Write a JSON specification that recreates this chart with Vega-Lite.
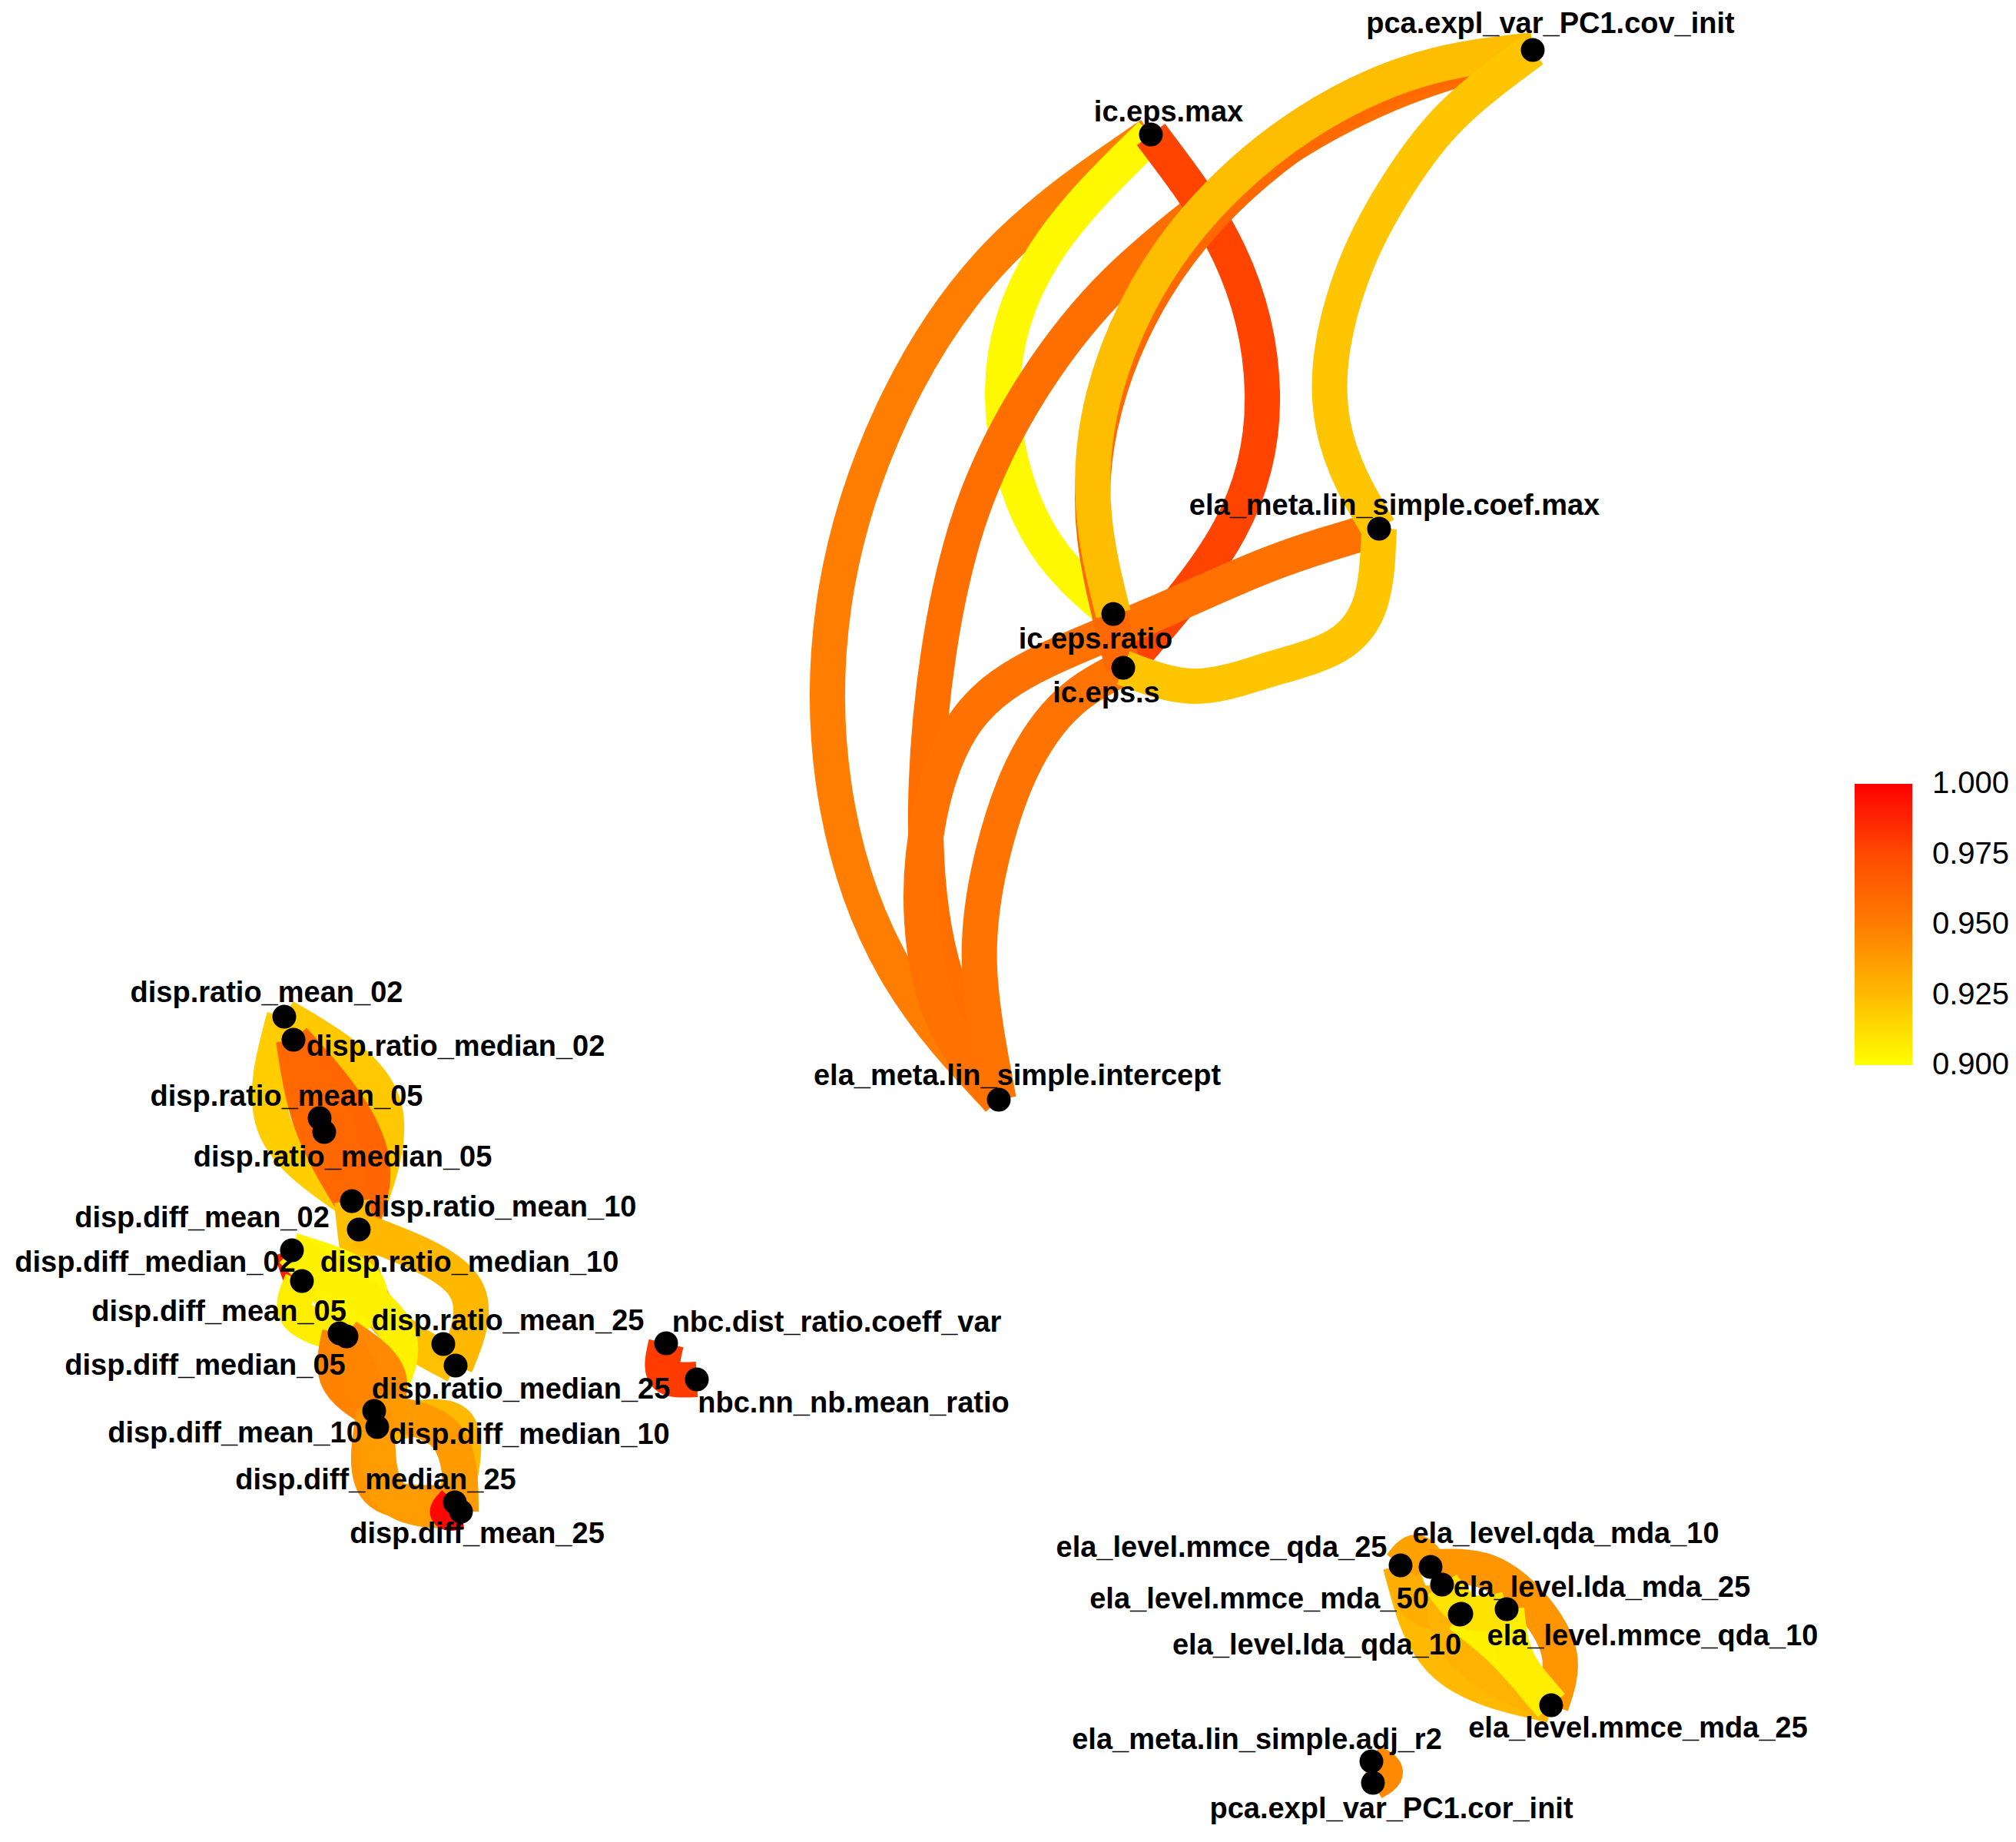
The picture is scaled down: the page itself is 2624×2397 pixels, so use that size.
{
  "$schema": "https://vega.github.io/schema/vega-lite/v6.json",
  "width": 2624,
  "height": 2397,
  "padding": 0,
  "autosize": {"type": "none"},
  "background": "white",
  "config": {"view": {"stroke": null}},
  "datasets": {
    "edges": [
      {"e": "e01", "i": 0, "x": 1498, "y": 175, "r": 0.95},
      {"e": "e01", "i": 1, "x": 1300, "y": 330, "r": 0.95},
      {"e": "e01", "i": 2, "x": 1160, "y": 540, "r": 0.95},
      {"e": "e01", "i": 3, "x": 1085, "y": 790, "r": 0.95},
      {"e": "e01", "i": 4, "x": 1090, "y": 1050, "r": 0.95},
      {"e": "e01", "i": 5, "x": 1170, "y": 1270, "r": 0.95},
      {"e": "e01", "i": 6, "x": 1300, "y": 1431, "r": 0.95},
      {"e": "e02", "i": 0, "x": 1498, "y": 175, "r": 0.902},
      {"e": "e02", "i": 1, "x": 1360, "y": 330, "r": 0.902},
      {"e": "e02", "i": 2, "x": 1305, "y": 510, "r": 0.902},
      {"e": "e02", "i": 3, "x": 1350, "y": 690, "r": 0.902},
      {"e": "e02", "i": 4, "x": 1449, "y": 799, "r": 0.902},
      {"e": "e03", "i": 0, "x": 1995, "y": 65, "r": 0.957},
      {"e": "e03", "i": 1, "x": 1845, "y": 108, "r": 0.957},
      {"e": "e03", "i": 2, "x": 1695, "y": 180, "r": 0.957},
      {"e": "e03", "i": 3, "x": 1560, "y": 275, "r": 0.957},
      {"e": "e03", "i": 4, "x": 1440, "y": 380, "r": 0.957},
      {"e": "e03", "i": 5, "x": 1340, "y": 510, "r": 0.957},
      {"e": "e03", "i": 6, "x": 1265, "y": 665, "r": 0.957},
      {"e": "e03", "i": 7, "x": 1222, "y": 848, "r": 0.957},
      {"e": "e03", "i": 8, "x": 1205, "y": 1050, "r": 0.957},
      {"e": "e03", "i": 9, "x": 1225, "y": 1250, "r": 0.957},
      {"e": "e03", "i": 10, "x": 1300, "y": 1431, "r": 0.957},
      {"e": "e04", "i": 0, "x": 1498, "y": 175, "r": 0.977},
      {"e": "e04", "i": 1, "x": 1600, "y": 330, "r": 0.977},
      {"e": "e04", "i": 2, "x": 1643, "y": 510, "r": 0.977},
      {"e": "e04", "i": 3, "x": 1600, "y": 690, "r": 0.977},
      {"e": "e04", "i": 4, "x": 1462, "y": 869, "r": 0.977},
      {"e": "e05", "i": 0, "x": 1795, "y": 688, "r": 0.956},
      {"e": "e05", "i": 1, "x": 1650, "y": 735, "r": 0.956},
      {"e": "e05", "i": 2, "x": 1500, "y": 800, "r": 0.956},
      {"e": "e05", "i": 3, "x": 1360, "y": 860, "r": 0.956},
      {"e": "e05", "i": 4, "x": 1260, "y": 935, "r": 0.956},
      {"e": "e05", "i": 5, "x": 1210, "y": 1060, "r": 0.956},
      {"e": "e05", "i": 6, "x": 1200, "y": 1200, "r": 0.956},
      {"e": "e05", "i": 7, "x": 1230, "y": 1330, "r": 0.956},
      {"e": "e05", "i": 8, "x": 1300, "y": 1431, "r": 0.956},
      {"e": "e06", "i": 0, "x": 1462, "y": 869, "r": 0.955},
      {"e": "e06", "i": 1, "x": 1390, "y": 915, "r": 0.955},
      {"e": "e06", "i": 2, "x": 1330, "y": 1000, "r": 0.955},
      {"e": "e06", "i": 3, "x": 1290, "y": 1120, "r": 0.955},
      {"e": "e06", "i": 4, "x": 1275, "y": 1260, "r": 0.955},
      {"e": "e06", "i": 5, "x": 1300, "y": 1431, "r": 0.955},
      {"e": "e07", "i": 0, "x": 1995, "y": 65, "r": 0.96},
      {"e": "e07", "i": 1, "x": 1845, "y": 100, "r": 0.96},
      {"e": "e07", "i": 2, "x": 1700, "y": 175, "r": 0.96},
      {"e": "e07", "i": 3, "x": 1572, "y": 285, "r": 0.96},
      {"e": "e07", "i": 4, "x": 1482, "y": 415, "r": 0.96},
      {"e": "e07", "i": 5, "x": 1432, "y": 555, "r": 0.96},
      {"e": "e07", "i": 6, "x": 1425, "y": 700, "r": 0.96},
      {"e": "e07", "i": 7, "x": 1462, "y": 869, "r": 0.96},
      {"e": "e08", "i": 0, "x": 1995, "y": 65, "r": 0.924},
      {"e": "e08", "i": 1, "x": 1850, "y": 90, "r": 0.924},
      {"e": "e08", "i": 2, "x": 1700, "y": 160, "r": 0.924},
      {"e": "e08", "i": 3, "x": 1570, "y": 270, "r": 0.924},
      {"e": "e08", "i": 4, "x": 1480, "y": 400, "r": 0.924},
      {"e": "e08", "i": 5, "x": 1430, "y": 545, "r": 0.924},
      {"e": "e08", "i": 6, "x": 1425, "y": 680, "r": 0.924},
      {"e": "e08", "i": 7, "x": 1449, "y": 799, "r": 0.924},
      {"e": "e09", "i": 0, "x": 1995, "y": 65, "r": 0.921},
      {"e": "e09", "i": 1, "x": 1890, "y": 150, "r": 0.921},
      {"e": "e09", "i": 2, "x": 1820, "y": 240, "r": 0.921},
      {"e": "e09", "i": 3, "x": 1769, "y": 335, "r": 0.921},
      {"e": "e09", "i": 4, "x": 1735, "y": 450, "r": 0.921},
      {"e": "e09", "i": 5, "x": 1735, "y": 552, "r": 0.921},
      {"e": "e09", "i": 6, "x": 1762, "y": 630, "r": 0.921},
      {"e": "e09", "i": 7, "x": 1795, "y": 688, "r": 0.921},
      {"e": "e10", "i": 0, "x": 1795, "y": 688, "r": 0.921},
      {"e": "e10", "i": 1, "x": 1785, "y": 780, "r": 0.921},
      {"e": "e10", "i": 2, "x": 1740, "y": 840, "r": 0.921},
      {"e": "e10", "i": 3, "x": 1650, "y": 872, "r": 0.921},
      {"e": "e10", "i": 4, "x": 1555, "y": 893, "r": 0.921},
      {"e": "e10", "i": 5, "x": 1462, "y": 869, "r": 0.921},
      {"e": "e11", "i": 0, "x": 370, "y": 1323, "r": 0.985},
      {"e": "e11", "i": 1, "x": 376, "y": 1338, "r": 0.985},
      {"e": "e11", "i": 2, "x": 382, "y": 1353, "r": 0.985},
      {"e": "e12", "i": 0, "x": 416, "y": 1455, "r": 0.985},
      {"e": "e12", "i": 1, "x": 419, "y": 1464, "r": 0.985},
      {"e": "e12", "i": 2, "x": 422, "y": 1473, "r": 0.985},
      {"e": "e13", "i": 0, "x": 458, "y": 1563, "r": 0.98},
      {"e": "e13", "i": 1, "x": 462, "y": 1581, "r": 0.98},
      {"e": "e13", "i": 2, "x": 467, "y": 1600, "r": 0.98},
      {"e": "e14", "i": 0, "x": 577, "y": 1749, "r": 0.99},
      {"e": "e14", "i": 1, "x": 590, "y": 1761, "r": 0.99},
      {"e": "e14", "i": 2, "x": 593, "y": 1777, "r": 0.99},
      {"e": "e15", "i": 0, "x": 380, "y": 1627, "r": 0.99},
      {"e": "e15", "i": 1, "x": 386, "y": 1647, "r": 0.99},
      {"e": "e15", "i": 2, "x": 393, "y": 1667, "r": 0.99},
      {"e": "e16", "i": 0, "x": 442, "y": 1735, "r": 0.99},
      {"e": "e16", "i": 1, "x": 446, "y": 1737, "r": 0.99},
      {"e": "e16", "i": 2, "x": 451, "y": 1739, "r": 0.99},
      {"e": "e17", "i": 0, "x": 487, "y": 1836, "r": 0.99},
      {"e": "e17", "i": 1, "x": 489, "y": 1846, "r": 0.99},
      {"e": "e17", "i": 2, "x": 491, "y": 1857, "r": 0.99},
      {"e": "e18", "i": 0, "x": 370, "y": 1323, "r": 0.918},
      {"e": "e18", "i": 1, "x": 357, "y": 1464, "r": 0.918},
      {"e": "e18", "i": 2, "x": 458, "y": 1563, "r": 0.918},
      {"e": "e19", "i": 0, "x": 370, "y": 1323, "r": 0.92},
      {"e": "e19", "i": 1, "x": 498, "y": 1434, "r": 0.92},
      {"e": "e19", "i": 2, "x": 467, "y": 1600, "r": 0.92},
      {"e": "e19b", "i": 0, "x": 370, "y": 1323, "r": 0.919},
      {"e": "e19b", "i": 1, "x": 425, "y": 1395, "r": 0.919},
      {"e": "e19b", "i": 2, "x": 422, "y": 1473, "r": 0.919},
      {"e": "e20", "i": 0, "x": 382, "y": 1353, "r": 0.96},
      {"e": "e20", "i": 1, "x": 406, "y": 1463, "r": 0.96},
      {"e": "e20", "i": 2, "x": 458, "y": 1563, "r": 0.96},
      {"e": "e21", "i": 0, "x": 382, "y": 1353, "r": 0.962},
      {"e": "e21", "i": 1, "x": 450, "y": 1435, "r": 0.962},
      {"e": "e21", "i": 2, "x": 485, "y": 1520, "r": 0.962},
      {"e": "e21", "i": 3, "x": 467, "y": 1600, "r": 0.962},
      {"e": "e21b", "i": 0, "x": 382, "y": 1353, "r": 0.961},
      {"e": "e21b", "i": 1, "x": 440, "y": 1465, "r": 0.961},
      {"e": "e21b", "i": 2, "x": 458, "y": 1563, "r": 0.961},
      {"e": "e22", "i": 0, "x": 458, "y": 1563, "r": 0.923},
      {"e": "e22", "i": 1, "x": 490, "y": 1700, "r": 0.923},
      {"e": "e22", "i": 2, "x": 593, "y": 1777, "r": 0.923},
      {"e": "e23", "i": 0, "x": 467, "y": 1600, "r": 0.926},
      {"e": "e23", "i": 1, "x": 603, "y": 1672, "r": 0.926},
      {"e": "e23", "i": 2, "x": 593, "y": 1777, "r": 0.926},
      {"e": "e24", "i": 0, "x": 380, "y": 1627, "r": 0.903},
      {"e": "e24", "i": 1, "x": 478, "y": 1672, "r": 0.903},
      {"e": "e24", "i": 2, "x": 442, "y": 1735, "r": 0.903},
      {"e": "e24b", "i": 0, "x": 380, "y": 1627, "r": 0.904},
      {"e": "e24b", "i": 1, "x": 430, "y": 1685, "r": 0.904},
      {"e": "e24b", "i": 2, "x": 451, "y": 1739, "r": 0.904},
      {"e": "e25", "i": 0, "x": 393, "y": 1667, "r": 0.906},
      {"e": "e25", "i": 1, "x": 388, "y": 1712, "r": 0.906},
      {"e": "e25", "i": 2, "x": 451, "y": 1739, "r": 0.906},
      {"e": "e26", "i": 0, "x": 380, "y": 1627, "r": 0.905},
      {"e": "e26", "i": 1, "x": 515, "y": 1730, "r": 0.905},
      {"e": "e26", "i": 2, "x": 487, "y": 1836, "r": 0.905},
      {"e": "e27", "i": 0, "x": 442, "y": 1735, "r": 0.948},
      {"e": "e27", "i": 1, "x": 440, "y": 1795, "r": 0.948},
      {"e": "e27", "i": 2, "x": 487, "y": 1836, "r": 0.948},
      {"e": "e28", "i": 0, "x": 451, "y": 1739, "r": 0.945},
      {"e": "e28", "i": 1, "x": 505, "y": 1790, "r": 0.945},
      {"e": "e28", "i": 2, "x": 491, "y": 1857, "r": 0.945},
      {"e": "e28b", "i": 0, "x": 442, "y": 1735, "r": 0.947},
      {"e": "e28b", "i": 1, "x": 472, "y": 1795, "r": 0.947},
      {"e": "e28b", "i": 2, "x": 491, "y": 1857, "r": 0.947},
      {"e": "e29", "i": 0, "x": 491, "y": 1857, "r": 0.925},
      {"e": "e29", "i": 1, "x": 594, "y": 1852, "r": 0.925},
      {"e": "e29", "i": 2, "x": 592, "y": 1955, "r": 0.925},
      {"e": "e30", "i": 0, "x": 487, "y": 1836, "r": 0.938},
      {"e": "e30", "i": 1, "x": 581, "y": 1869, "r": 0.938},
      {"e": "e30", "i": 2, "x": 600, "y": 1967, "r": 0.938},
      {"e": "e31", "i": 0, "x": 487, "y": 1836, "r": 0.94},
      {"e": "e31", "i": 1, "x": 491, "y": 1938, "r": 0.94},
      {"e": "e31", "i": 2, "x": 592, "y": 1955, "r": 0.94},
      {"e": "e32", "i": 0, "x": 491, "y": 1857, "r": 0.937},
      {"e": "e32", "i": 1, "x": 510, "y": 1947, "r": 0.937},
      {"e": "e32", "i": 2, "x": 600, "y": 1967, "r": 0.937},
      {"e": "e33", "i": 0, "x": 592, "y": 1955, "r": 0.998},
      {"e": "e33", "i": 1, "x": 583, "y": 1968, "r": 0.998},
      {"e": "e33", "i": 2, "x": 600, "y": 1967, "r": 0.998},
      {"e": "e34", "i": 0, "x": 867, "y": 1748, "r": 0.98},
      {"e": "e34", "i": 1, "x": 866, "y": 1789, "r": 0.98},
      {"e": "e34", "i": 2, "x": 907, "y": 1795, "r": 0.98},
      {"e": "e35", "i": 0, "x": 1823, "y": 2037, "r": 0.925},
      {"e": "e35", "i": 1, "x": 1880, "y": 2165, "r": 0.925},
      {"e": "e35", "i": 2, "x": 2019, "y": 2219, "r": 0.925},
      {"e": "e36", "i": 0, "x": 1823, "y": 2037, "r": 0.93},
      {"e": "e36", "i": 1, "x": 1846, "y": 2088, "r": 0.93},
      {"e": "e36", "i": 2, "x": 1900, "y": 2101, "r": 0.93},
      {"e": "e37", "i": 0, "x": 1823, "y": 2037, "r": 0.935},
      {"e": "e37", "i": 1, "x": 1843, "y": 2020, "r": 0.935},
      {"e": "e37", "i": 2, "x": 1862, "y": 2039, "r": 0.935},
      {"e": "e38", "i": 0, "x": 1862, "y": 2039, "r": 0.94},
      {"e": "e38", "i": 1, "x": 1935, "y": 2045, "r": 0.94},
      {"e": "e38", "i": 2, "x": 1995, "y": 2090, "r": 0.94},
      {"e": "e38", "i": 3, "x": 2030, "y": 2155, "r": 0.94},
      {"e": "e38", "i": 4, "x": 2019, "y": 2219, "r": 0.94},
      {"e": "e39", "i": 0, "x": 1877, "y": 2062, "r": 0.928},
      {"e": "e39", "i": 1, "x": 1905, "y": 2150, "r": 0.928},
      {"e": "e39", "i": 2, "x": 2019, "y": 2219, "r": 0.928},
      {"e": "e40", "i": 0, "x": 1900, "y": 2101, "r": 0.905},
      {"e": "e40", "i": 1, "x": 1958, "y": 2150, "r": 0.905},
      {"e": "e40", "i": 2, "x": 2019, "y": 2219, "r": 0.905},
      {"e": "e40b", "i": 0, "x": 1961, "y": 2094, "r": 0.906},
      {"e": "e40b", "i": 1, "x": 1975, "y": 2160, "r": 0.906},
      {"e": "e40b", "i": 2, "x": 2019, "y": 2219, "r": 0.906},
      {"e": "e40c", "i": 0, "x": 1877, "y": 2062, "r": 0.91},
      {"e": "e40c", "i": 1, "x": 1912, "y": 2097, "r": 0.91},
      {"e": "e40c", "i": 2, "x": 1961, "y": 2094, "r": 0.91},
      {"e": "e41", "i": 0, "x": 1785, "y": 2292, "r": 0.945},
      {"e": "e41", "i": 1, "x": 1803, "y": 2306, "r": 0.945},
      {"e": "e41", "i": 2, "x": 1787, "y": 2320, "r": 0.945}
    ],
    "nodes": [
      {"name": "pca.expl_var_PC1.cov_init", "x": 1995, "y": 65, "lx": 2018, "ly": 32},
      {"name": "ic.eps.max", "x": 1498, "y": 175, "lx": 1521, "ly": 147},
      {"name": "ela_meta.lin_simple.coef.max", "x": 1795, "y": 688, "lx": 1815, "ly": 659},
      {"name": "ic.eps.ratio", "x": 1449, "y": 799, "lx": 1426, "ly": 833},
      {"name": "ic.eps.s", "x": 1462, "y": 869, "lx": 1440, "ly": 903},
      {"name": "ela_meta.lin_simple.intercept", "x": 1300, "y": 1431, "lx": 1324, "ly": 1401},
      {"name": "disp.ratio_mean_02", "x": 370, "y": 1323, "lx": 347, "ly": 1293},
      {"name": "disp.ratio_median_02", "x": 382, "y": 1353, "lx": 593, "ly": 1363},
      {"name": "disp.ratio_mean_05", "x": 416, "y": 1455, "lx": 373, "ly": 1428},
      {"name": "disp.ratio_median_05", "x": 422, "y": 1473, "lx": 446, "ly": 1507},
      {"name": "disp.ratio_mean_10", "x": 458, "y": 1563, "lx": 651, "ly": 1572},
      {"name": "disp.ratio_median_10", "x": 467, "y": 1600, "lx": 611, "ly": 1644},
      {"name": "disp.diff_mean_02", "x": 380, "y": 1627, "lx": 263, "ly": 1586},
      {"name": "disp.diff_median_02", "x": 393, "y": 1667, "lx": 202, "ly": 1644},
      {"name": "disp.diff_mean_05", "x": 442, "y": 1735, "lx": 285, "ly": 1708},
      {"name": "disp.diff_median_05", "x": 451, "y": 1739, "lx": 267, "ly": 1778},
      {"name": "disp.ratio_mean_25", "x": 577, "y": 1749, "lx": 661, "ly": 1720},
      {"name": "disp.ratio_median_25", "x": 593, "y": 1777, "lx": 678, "ly": 1809},
      {"name": "disp.diff_mean_10", "x": 487, "y": 1836, "lx": 306, "ly": 1866},
      {"name": "disp.diff_median_10", "x": 491, "y": 1857, "lx": 689, "ly": 1868},
      {"name": "disp.diff_median_25", "x": 592, "y": 1955, "lx": 489, "ly": 1927},
      {"name": "disp.diff_mean_25", "x": 600, "y": 1967, "lx": 621, "ly": 1997},
      {"name": "nbc.dist_ratio.coeff_var", "x": 867, "y": 1748, "lx": 1089, "ly": 1722},
      {"name": "nbc.nn_nb.mean_ratio", "x": 907, "y": 1795, "lx": 1111, "ly": 1827},
      {"name": "ela_level.mmce_qda_25", "x": 1823, "y": 2037, "lx": 1590, "ly": 2015},
      {"name": "ela_level.qda_mda_10", "x": 1862, "y": 2039, "lx": 2038, "ly": 1997},
      {"name": "ela_level.mmce_mda_50", "x": 1877, "y": 2062, "lx": 1639, "ly": 2082},
      {"name": "ela_level.lda_qda_10", "x": 1900, "y": 2101, "lx": 1714, "ly": 2142},
      {"name": "ela_level.mmce_qda_10", "x": 1902, "y": 2100, "lx": 2151, "ly": 2130},
      {"name": "ela_level.lda_mda_25", "x": 1961, "y": 2094, "lx": 2085, "ly": 2067},
      {"name": "ela_level.mmce_mda_25", "x": 2019, "y": 2219, "lx": 2132, "ly": 2250},
      {"name": "ela_meta.lin_simple.adj_r2", "x": 1785, "y": 2292, "lx": 1636, "ly": 2265},
      {"name": "pca.expl_var_PC1.cor_init", "x": 1787, "y": 2320, "lx": 1811, "ly": 2355}
    ]
  },
  "layer": [
    {
      "data": {"name": "edges"},
      "mark": {"type": "line", "interpolate": "natural", "strokeWidth": 46, "strokeCap": "butt", "clip": false},
      "encoding": {
        "x": {"field": "x", "type": "quantitative", "scale": {"domain": [0, 2624], "nice": false, "zero": false}, "axis": null},
        "y": {"field": "y", "type": "quantitative", "scale": {"domain": [0, 2397], "nice": false, "zero": false, "reverse": true}, "axis": null},
        "order": {"field": "i", "type": "quantitative"},
        "detail": {"field": "e", "type": "nominal"},
        "color": {
          "field": "r", "type": "quantitative",
          "scale": {"domain": [0.9, 0.925, 0.95, 0.975, 1.0], "range": ["#FFFF00", "#FFBA00", "#FF7D00", "#FF4A00", "#FF0000"], "interpolate": "rgb"},
          "legend": {
            "orient": "none", "legendX": 2414, "legendY": 1020, "title": null,
            "direction": "vertical", "gradientLength": 366, "gradientThickness": 75,
            "gradientStrokeWidth": 0, "values": [0.9, 0.925, 0.95, 0.975, 1.0], "format": ".3f",
            "labelFontSize": 40, "labelFont": "Liberation Sans", "labelColor": "#000000",
            "labelOffset": 26, "labelOverlap": false, "padding": 0,
            "encode": {"labels": {"update": {"baseline": {"value": "middle"}}}}
          }
        }
      }
    },
    {
      "data": {"name": "nodes"},
      "mark": {"type": "circle", "size": 960, "color": "#000000", "opacity": 1},
      "encoding": {
        "x": {"field": "x", "type": "quantitative", "scale": {"domain": [0, 2624], "nice": false, "zero": false}, "axis": null},
        "y": {"field": "y", "type": "quantitative", "scale": {"domain": [0, 2397], "nice": false, "zero": false, "reverse": true}, "axis": null}
      }
    },
    {
      "data": {"name": "nodes"},
      "mark": {"type": "text", "font": "Liberation Sans", "fontWeight": "bold", "fontSize": 38, "color": "#000000", "align": "center", "baseline": "middle"},
      "encoding": {
        "x": {"field": "lx", "type": "quantitative", "scale": {"domain": [0, 2624], "nice": false, "zero": false}, "axis": null},
        "y": {"field": "ly", "type": "quantitative", "scale": {"domain": [0, 2397], "nice": false, "zero": false, "reverse": true}, "axis": null},
        "text": {"field": "name", "type": "nominal"}
      }
    }
  ]
}
